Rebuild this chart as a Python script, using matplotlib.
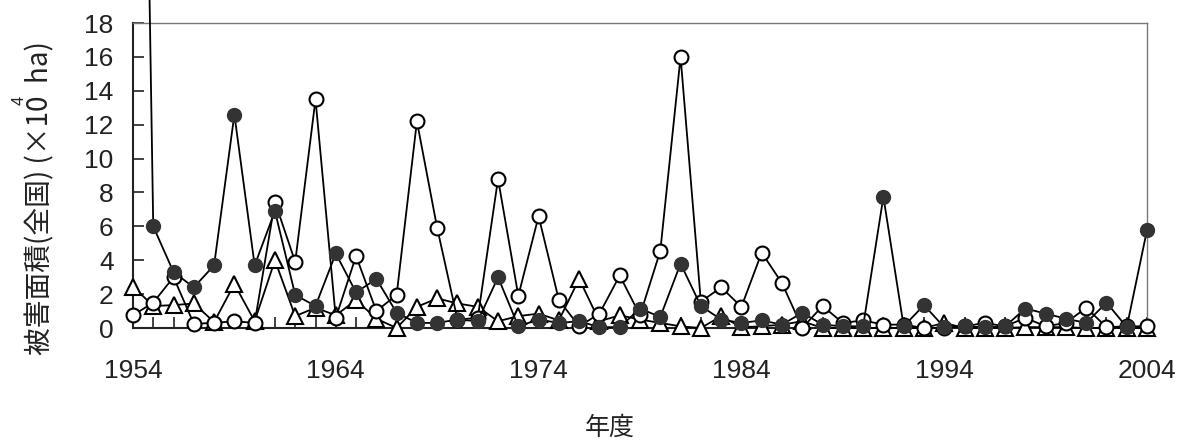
import matplotlib
matplotlib.use("Agg")
import matplotlib.pyplot as plt
from matplotlib.patches import Rectangle

plt.rcParams['font.family'] = ['Liberation Sans', 'Noto Sans CJK JP', 'DejaVu Sans']

years = list(range(1954, 2005))

# filled circles (1954 goes far off the top of the chart)
filled = [80, 6.0, 3.3, 2.4, 3.7, 12.6, 3.7, 6.9, 1.95, 1.3,
          4.4, 2.1, 2.9, 0.9, 0.3, 0.3, 0.5, 0.4, 3.0, 0.1,
          0.5, 0.3, 0.4, 0.05, 0.05, 1.15, 0.65, 3.8, 1.3, 0.5,
          0.3, 0.45, 0.2, 0.9, 0.2, 0.1, 0.1, 7.75, 0.1, 1.35,
          0.05, 0.1, 0.05, 0.1, 1.15, 0.85, 0.55, 0.3, 1.5, 0.05,
          5.8]

# open circles
opened = [0.75, 1.5, 3.0, 0.25, 0.3, 0.4, 0.3, 7.45, 3.9, 13.5,
          0.6, 4.25, 1.0, 1.95, 12.2, 5.9, 0.5, 0.6, 8.8, 1.9,
          6.6, 1.65, 0.1, 0.85, 3.1, 0.75, 4.55, 16.0, 1.55, 2.4,
          1.25, 4.45, 2.65, 0.0, 1.3, 0.3, 0.45, 0.2, 0.2, 0.0,
          0.0, 0.1, 0.3, 0.1, 0.6, 0.1, 0.3, 1.2, 0.05, 0.1,
          0.1]

# open triangles
triangles = [2.45, 1.3, 1.35, 1.45, 0.35, 2.6, 0.4, 4.0, 0.7, 1.2,
             0.75, 1.65, 0.55, 0.0, 1.25, 1.75, 1.45, 1.25, 0.4, 0.7,
             0.85, 0.45, 2.9, 0.4, 0.75, 0.5, 0.3, 0.1, 0.0, 0.7,
             0.05, 0.1, 0.2, 0.4, 0.0, 0.0, 0.0, 0.0, 0.0, 0.0,
             0.3, 0.0, 0.0, 0.0, 0.05, 0.05, 0.05, 0.0, 0.0, 0.0,
             0.0]

major_years = [1954, 1964, 1974, 1984, 1994, 2004]

fig = plt.figure(figsize=(11.84, 4.41), dpi=100)
ax = fig.add_axes([0.1123, 0.2562, 0.8565, 0.6916])

ax.plot(years, triangles, color='black', lw=1.3, marker='^', ms=11,
        mfc='white', mec='black', mew=1.5, zorder=3, clip_on=False)
ax.plot(years, opened, color='black', lw=1.3, marker='o', ms=10,
        mfc='white', mec='black', mew=1.5, zorder=4, clip_on=False)
line, = ax.plot(years, filled, color='black', lw=1.3, marker='o', ms=10,
                mfc='#333333', mec='#333333', mew=1.0, zorder=5, clip_on=False)
# the first filled value runs off the top; cut it just above the frame
clip = Rectangle((0.0, 0.0), 1.0, 0.966, transform=fig.transFigure,
                 facecolor='none', edgecolor='none')
fig.add_artist(clip)
line.set_clip_path(clip)

ax.set_xlim(1954, 2004)
ax.set_ylim(0, 18)
ax.set_xticks(major_years)
ax.set_xticks(years, minor=True)
ax.set_yticks(range(0, 19, 2))

ax.tick_params(axis='x', which='both', direction='in', length=8, width=1.2,
               labelsize=19, pad=22, colors='#222222')
ax.tick_params(axis='y', direction='in', length=8, width=1.2,
               labelsize=19, pad=14, colors='#222222')

for side in ['left', 'bottom']:
    ax.spines[side].set_color('#222222')
    ax.spines[side].set_linewidth(1.5)
for side in ['top', 'right']:
    ax.spines[side].set_color('#777777')
    ax.spines[side].set_linewidth(1.0)

fig.text(40 / 1184, 1 - 198 / 441, '被害面積(全国) (×10  ha)', rotation=90,
         ha='center', va='center', fontsize=20, color='#222222',
         family=['Noto Sans CJK JP', 'DejaVu Sans'])
fig.text(19 / 1184, 1 - 100 / 441, '4', rotation=90, ha='center', va='center',
         fontsize=12, color='#222222')
fig.text(610 / 1184, 1 - 428 / 441, '年度', ha='center', va='center',
         fontsize=18, color='#222222', family=['Noto Sans CJK JP', 'DejaVu Sans'])

fig.savefig('out.png', dpi=100)
